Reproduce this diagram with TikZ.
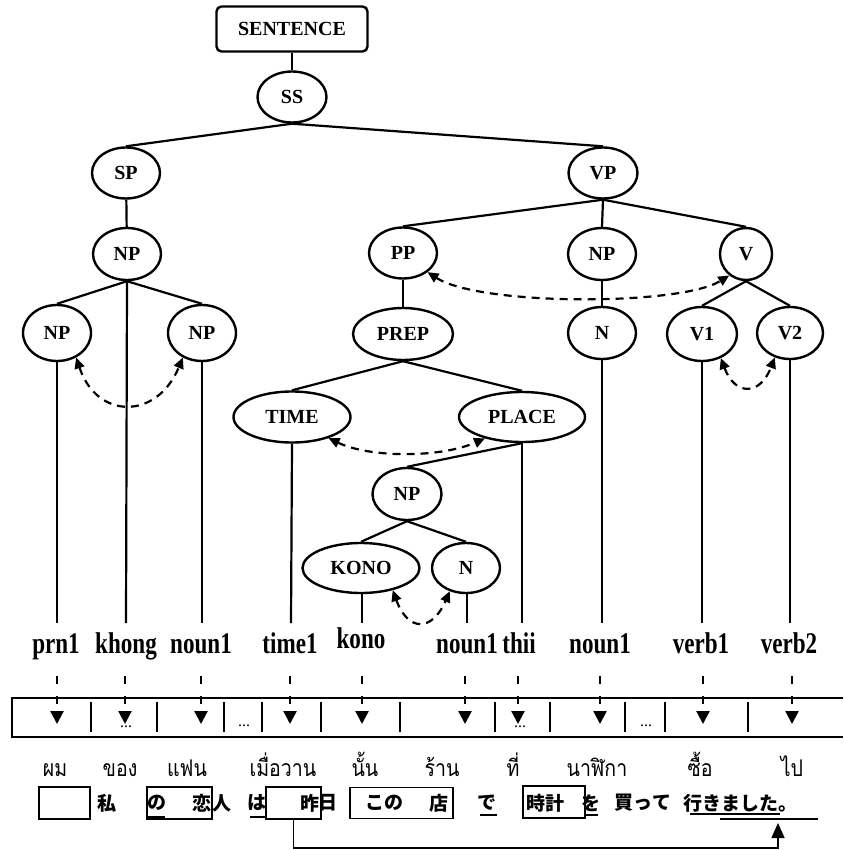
\documentclass[tikz,border=0pt]{standalone}
\usepackage{fontspec}
\setmainfont{Liberation Serif}
\newfontfamily\wordfont{Liberation Serif}[FakeStretch=0.77]
\newfontfamily\thaifont[Script=Thai]{Loma}[FakeStretch=0.85]
\newfontfamily\jpfont{Noto Sans CJK JP}
\usetikzlibrary{shapes.geometric,arrows.meta}
\begin{document}
\begin{tikzpicture}[x=1pt,y=-1pt,
  lbl/.style={font=\fontsize{20}{22}\selectfont\bfseries},
  ell/.style={draw, ellipse, line width=2.4pt, inner sep=0pt, lbl},
  edge/.style={line width=2.2pt},
  word/.style={font=\fontsize{30}{32}\wordfont\bfseries, anchor=base, inner sep=0pt},
  thai/.style={font=\fontsize{23}{26}\thaifont, anchor=base, inner sep=0pt},
  jp/.style={font=\fontsize{19}{22}\jpfont\bfseries, inner sep=0pt},
  jbox/.style={draw, line width=1.8pt, inner sep=0pt},
  uline/.style={line width=1.2pt},
  dasharc/.style={line width=2.2pt, dash pattern=on 8pt off 6pt, {Triangle[length=11pt,width=10pt]}-{Triangle[length=11pt,width=10pt]}},
  downarr/.style={line width=2.2pt, dash pattern=on 8pt off 12pt, -{Triangle[length=13pt,width=13pt]}},
  dots/.style={font=\fontsize{16}{16}\selectfont, inner sep=0pt}
]
\useasboundingbox (0,0) rectangle (843,850);

% ---- tree nodes ----
\node[draw, rounded corners=5pt, line width=2.4pt, minimum width=151pt, minimum height=45pt, inner sep=0pt, lbl] (sent) at (292,29) {SENTENCE};
\node[ell, minimum width=69pt, minimum height=51pt] (ss) at (292,97) {SS};
\node[ell, minimum width=68pt, minimum height=51pt] (sp) at (126,173) {SP};
\node[ell, minimum width=69pt, minimum height=51pt] (vp) at (603,173) {VP};
\node[ell, minimum width=68pt, minimum height=52pt] (np1) at (127,254) {NP};
\node[ell, minimum width=68pt, minimum height=56pt] (npl) at (57,333) {NP};
\node[ell, minimum width=68pt, minimum height=56pt] (npr) at (202,333) {NP};
\node[ell, minimum width=68pt, minimum height=51pt] (pp) at (403,253) {PP};
\node[ell, minimum width=68pt, minimum height=52pt] (np2) at (602,254) {NP};
\node[ell, minimum width=52pt, minimum height=52pt] (v) at (746,254) {V};
\node[ell, minimum width=100pt, minimum height=52pt] (prep) at (403,334) {PREP};
\node[ell, minimum width=68pt, minimum height=52pt] (n1) at (602,333) {N};
\node[ell, minimum width=70pt, minimum height=54pt] (v1) at (702,334) {V1};
\node[ell, minimum width=66pt, minimum height=52pt] (v2) at (790,333) {V2};
\node[ell, minimum width=117pt, minimum height=51pt] (time) at (292,417) {TIME};
\node[ell, minimum width=126pt, minimum height=50pt] (place) at (522,417) {PLACE};
\node[ell, minimum width=69pt, minimum height=52pt] (np3) at (407,494) {NP};
\node[ell, minimum width=117pt, minimum height=50pt] (kono) at (361,568) {KONO};
\node[ell, minimum width=68pt, minimum height=50pt] (n2) at (466,568) {N};

% ---- tree edges ----
\draw[edge] (sent) -- (ss);
\draw[edge] (ss.south) -- (sp.north);
\draw[edge] (ss.south) -- (vp.north);
\draw[edge] (sp) -- (np1);
\draw[edge] (np1.south) -- (npl.north);
\draw[edge] (np1.south) -- (npr.north);
\draw[edge] (vp.south) -- (pp.north);
\draw[edge] (vp.south) -- (np2.north);
\draw[edge] (vp.south) -- (v.north);
\draw[edge] (pp) -- (prep);
\draw[edge] (np2) -- (n1);
\draw[edge] (v.south) -- (v1.north);
\draw[edge] (v.south) -- (v2.north);
\draw[edge] (prep.south) -- (time.north);
\draw[edge] (prep.south) -- (place.north);
\draw[edge] (place.south) -- (np3.north);
\draw[edge] (np3.south) -- (kono.north);
\draw[edge] (np3.south) -- (n2.north);

% ---- words ----
\node[word] (w1) at (56,653) {prn1};
\node[word] (w2) at (126,653) {khong};
\node[word] (w3) at (201,653) {noun1};
\node[word] (w4) at (290,653) {time1};
\node[word] (w5) at (361,648) {kono};
\node[word] (w6) at (467,653) {noun1};
\node[word] (w7) at (519,653) {thii};
\node[word] (w8) at (600,653) {noun1};
\node[word] (w9) at (701,653) {verb1};
\node[word] (w10) at (789,653) {verb2};

% leaf lines
\coordinate (e1) at (57,623);
\coordinate (e2) at (126,623);
\coordinate (e3) at (202,623);
\coordinate (e4) at (291,623);
\coordinate (e5) at (362,623);
\coordinate (e6) at (467,623);
\coordinate (e7) at (522,623);
\coordinate (e8) at (602,623);
\coordinate (e9) at (702,623);
\coordinate (e10) at (790,623);
\draw[edge] (npl.south) -- (e1);
\draw[edge] (np1.south) -- (e2);
\draw[edge] (npr.south) -- (e3);
\draw[edge] (time.south) -- (e4);
\draw[edge] (kono.south -| e5) -- (e5);
\draw[edge] (n2.south -| e6) -- (e6);
\draw[edge] (place.south) -- (e7);
\draw[edge] (n1.south) -- (e8);
\draw[edge] (v1.south) -- (e9);
\draw[edge] (v2.south) -- (e10);

% dashed arcs
\draw[dasharc] (npl.-52) .. controls (97,420) and (157,420) .. (npr.-128);
\draw[dasharc] (pp.-38) .. controls (480,306) and (680,306) .. (v.-128);
\draw[dasharc] (time.-30) .. controls (370,458) and (440,458) .. (place.-150);
\draw[dasharc] (v1.-52) .. controls (735,396) and (760,396) .. (v2.-122);
\draw[dasharc] (kono.-35) .. controls (408,632) and (432,632) .. (n2.-125);

% ---- slot box ----
\draw[line width=2.6pt] (843,698) -- (12,698) -- (12,737) -- (843,737);
\foreach \x in {91,157,224,262,321,400,495,550,625,665,748}
  \draw[line width=2pt] (\x,702) -- (\x,732);
\foreach \x [count=\i] in {57,125,201,290,362,465,518,600,703,792} {
  \coordinate (s\i) at (\x,676);
  \coordinate (t\i) at (\x,724);
  \draw[downarr] (s\i) -- (t\i);
}
\node[dots] (d1) at (126,727) {...};
\node[dots] (d2) at (244,726) {...};
\node[dots] (d3) at (520,727) {...};
\node[dots] (d4) at (646,726) {...};

% ---- Thai row ----
\node[thai] (th1) at (55,776) {ผม};
\node[thai] (th2) at (120,776) {ของ};
\node[thai] (th3) at (187,776) {แฟน};
\node[thai] (th4) at (283,776) {เมื่อวาน};
\node[thai] (th5) at (365,776) {นั้น};
\node[thai] (th6) at (442,776) {ร้าน};
\node[thai] (th7) at (513,776) {ที่};
\node[thai] (th8) at (597,776) {นาฬิกา};
\node[thai] (th9) at (700,776) {ซื้อ};
\node[thai] (th10) at (792,776) {ไป};

% ---- Japanese row ----
\node[jbox, minimum width=51pt, minimum height=32pt] (b1) at (64.5,803) {};
\node[jbox, minimum width=65pt, minimum height=32pt] (b2) at (179.5,803) {};
\node[jbox, minimum width=55pt, minimum height=32pt] (b3) at (293.5,803) {};
\node[jbox, minimum width=103pt, minimum height=31pt] (b4) at (401.5,803) {};
\node[jbox, minimum width=62pt, minimum height=32pt] (b5) at (554,802) {};
\node[jp] (j1) at (107,803) {私};
\node[jp] (j2) at (157,803) {の};
\node[jp] (j3) at (202,803) {恋};
\node[jp] (j4) at (222,803) {人};
\node[jp] (j5) at (257,803) {は};
\node[jp] (j6) at (310,803) {昨};
\node[jp] (j7) at (328,803) {日};
\node[jp] (j8) at (384,803) {この};
\node[jp] (j9) at (439,803) {店};
\node[jp] (j10) at (487,803) {で};
\node[jp] (j11) at (545,803) {時計};
\node[jp] (j12) at (591,803) {を};
\node[jp] (j13) at (643,803) {買って};
\node[jp] (j14) at (740,803) {行きました。};
\draw[uline] (147,817) -- (165,817);
\draw[uline] (250,817) -- (267,817);
\draw[uline] (480,815) -- (497,815);
\draw[uline] (585,815) -- (598,815);
\draw[uline] (690,814) -- (780,814);
\draw[uline] (720,819) -- (818,819);

% bracket arrow
\coordinate (bk) at (293.5,848);
\coordinate (tip) at (778,823);
\draw[line width=1.6pt, -{Triangle[length=15pt,width=13pt]}] (b3.south) -- (bk) -| (tip);
\end{tikzpicture}
\end{document}
